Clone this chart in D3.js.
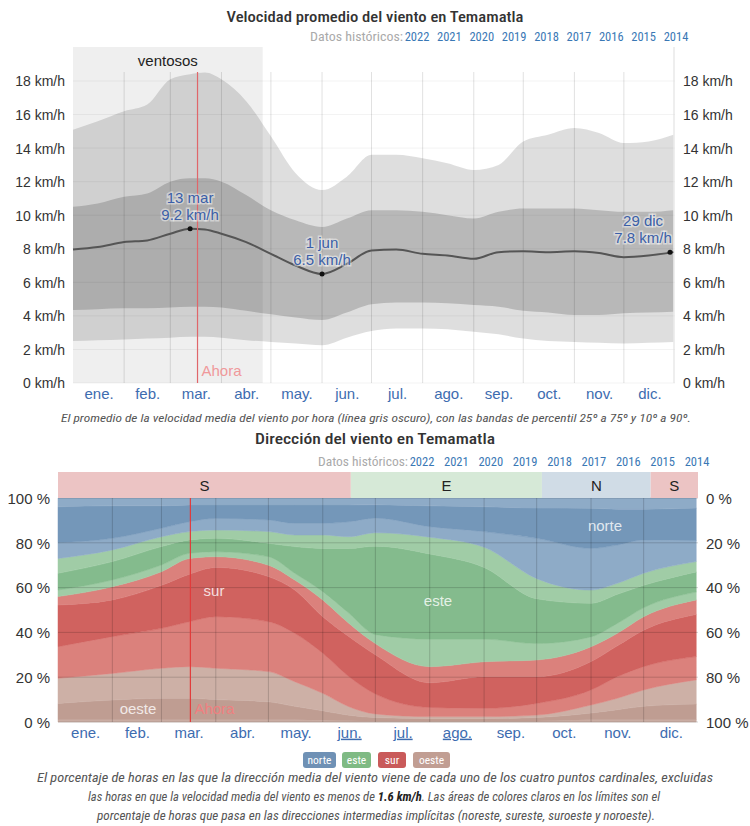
<!DOCTYPE html>
<html>
<head>
<meta charset="utf-8">
<script src="https://cdn.jsdelivr.net/npm/d3@7"></script>
<style>
  body { margin: 0; background: #fff; }
  svg text { font-family: "Liberation Sans", Arial, sans-serif; }
  svg text.cond { font-family: "Liberation Sans Narrow", "Roboto Condensed", Roboto, sans-serif; }
</style>
</head>
<body>
<script>
const width = 750
const height = 826

// --- datos comunes ---
const meses = ['ene.', 'feb.', 'mar.', 'abr.', 'may.', 'jun.', 'jul.', 'ago.', 'sep.', 'oct.', 'nov.', 'dic.']
const inicioMes = [0, 31, 59, 90, 120, 151, 181, 212, 243, 273, 304, 334, 365]
const anios = ['2022', '2021', '2020', '2019', '2018', '2017', '2016', '2015', '2014']
const hoy = 75.5

// --- velocidad del viento (km/h) ---
const ventososDesde = 0
const ventososHasta = 115
const diasVel = [0, 15, 31, 45, 59, 71, 80, 90, 105, 120, 135, 151, 166, 181, 196, 212, 227, 243, 258, 273, 288, 304, 319, 334, 349, 364]
const vel90 = [15.1, 15.6, 16.2, 16.6, 18.1, 18.4, 18.5, 18.1, 16.8, 14.7, 12.5, 11.5, 12.3, 13.6, 13.6, 13.4, 13.1, 12.7, 13.0, 14.4, 14.8, 15.2, 14.9, 14.3, 14.4, 14.8]
const vel75 = [10.5, 10.7, 11.1, 11.3, 12.0, 12.2, 12.2, 12.0, 11.2, 10.3, 9.7, 9.3, 9.8, 10.3, 10.3, 10.2, 10.0, 9.8, 10.2, 10.4, 10.4, 10.4, 10.3, 10.2, 10.2, 10.3]
const velMedia = [7.95, 8.1, 8.4, 8.5, 8.9, 9.2, 9.15, 8.9, 8.4, 7.7, 7.0, 6.5, 7.1, 7.9, 7.95, 7.7, 7.6, 7.4, 7.8, 7.85, 7.8, 7.85, 7.75, 7.5, 7.6, 7.8]
const vel25 = [4.35, 4.4, 4.45, 4.45, 4.5, 4.55, 4.55, 4.5, 4.3, 4.1, 3.9, 3.75, 4.2, 4.7, 4.8, 4.8, 4.75, 4.65, 4.55, 4.3, 4.2, 4.05, 4.05, 4.15, 4.2, 4.25]
const vel10 = [2.5, 2.55, 2.6, 2.65, 2.7, 2.75, 2.75, 2.7, 2.55, 2.45, 2.35, 2.25, 2.7, 3.1, 3.25, 3.25, 3.2, 3.05, 2.9, 2.65, 2.5, 2.45, 2.4, 2.35, 2.4, 2.45]
const velTicks = [0, 2, 4, 6, 8, 10, 12, 14, 16, 18]
const marcaDias = [71, 151, 362]
const marcaValores = [9.2, 6.5, 7.8]
const marcaFechas = ['13 mar', '1 jun', '29 dic']

// --- dirección del viento (% acumulado desde abajo) ---
const diasDir = [0, 31, 59, 75, 90, 120, 135, 151, 166, 181, 212, 243, 273, 304, 319, 334, 364]
const acumNoroesteBajo = [1, 1, 1, 1, 1, 1, 1, 0.8, 0.6, 0.5, 0.5, 0.5, 0.5, 1, 1, 1, 1]
const acumOeste = [8.3, 9.8, 10.6, 10.6, 10, 9, 7, 5, 3, 2, 1.5, 1.5, 2, 4, 5.5, 7, 8]
const acumSuroesteO = [19.5, 21.7, 24, 24.7, 24, 22.5, 18, 12.8, 6.8, 3.6, 2.4, 2.4, 3.1, 7.6, 10.6, 14.3, 18.8]
const acumSuroesteS = [33.6, 38.1, 41.8, 44.8, 47, 44.8, 39.6, 30.7, 20.2, 12.5, 6.5, 6.1, 8.3, 14.3, 20.2, 24.7, 29.2]
const acumSur = [52.2, 54.5, 61, 66, 69, 64.9, 58.9, 47, 38.1, 30, 17.5, 20.2, 20.2, 27, 34, 41, 48]
const acumSuresteS = [56, 60.4, 67.1, 73, 73.8, 70, 63.4, 54.5, 44, 35, 24.7, 26.9, 27.7, 33.6, 39.6, 47, 54.5]
const acumSuresteE = [58.9, 63.4, 70.1, 75.3, 76, 73.8, 66.4, 58.2, 48.5, 39, 37, 37, 35, 38, 44, 51, 58]
const acumEste = [66.4, 71.6, 78.3, 81.3, 82, 79.8, 78.3, 77.5, 77.5, 78.5, 75, 69, 55, 53, 57, 61, 67]
const acumNoresteE = [73, 76.8, 82.7, 85, 85.7, 85, 83.5, 83.5, 82.7, 84.5, 82.5, 78, 64, 58.9, 61.9, 66.4, 71.6]
const acumNoresteN = [80, 82, 86.5, 89.4, 90.9, 90.2, 88.7, 88.7, 89.4, 91, 87.2, 85, 82, 77.5, 79, 81.3, 81]
const acumNorte = [96.1, 96.5, 96.5, 96.9, 96.9, 96.9, 96.9, 96.9, 96.9, 97, 96.5, 96.1, 95.5, 95.4, 95, 95, 95.5]
const dirTicks = [0, 20, 40, 60, 80, 100]
const dominante = ['S', 'E', 'N', 'S']
const dominanteDesde = [0, 167, 276, 338]
const dominanteHasta = [167, 276, 338, 365]
const nombresDir = ['norte', 'este', 'sur', 'oeste']

const azul = '#3d6cb0'
const colores = {
  norte: {base: '#6f91b5', core: '#7497b9', light: '#8eabc7', band: '#d0dce6'},
  este: {base: '#7fba84', core: '#84bb8d', light: '#a0cca6', band: '#d6e9d7'},
  sur: {base: '#c95a5a', core: '#d0625f', light: '#db817c', band: '#ecc4c4'},
  oeste: {base: '#c19e93', core: '#bf9d92', light: '#cdb0a6', band: '#ecc4c4'}
}

const svg = d3.select('body')
  .append('svg')
  .attr('width', width)
  .attr('height', height)

const mitadMes = meses.map((m, i) => (inicioMes[i] + inicioMes[i + 1]) / 2)

const titulo = (texto, y, largo) => {
  svg.append('text')
    .classed('cond', true)
    .attr('x', 375 - largo / 2)
    .attr('y', y)
    .attr('textLength', largo)
    .attr('lengthAdjust', 'spacingAndGlyphs')
    .attr('font-size', 15)
    .attr('font-weight', 500)
    .attr('fill', '#333')
    .text(texto)
}

const datosHistoricos = (y, x0, x1, x2) => {
  svg.append('text')
    .classed('cond', true)
    .attr('x', x0)
    .attr('y', y)
    .attr('font-size', 12.5)
    .attr('fill', '#aaa')
    .attr('textLength', x1 - x0 - 14)
    .attr('lengthAdjust', 'spacingAndGlyphs')
    .text('Datos históricos:')
  const px = d3.scalePoint().domain(anios).range([x1, x2])
  svg.append('g').selectAll('text')
    .data(anios)
    .enter()
    .append('text')
    .classed('cond', true)
    .attr('x', (d) => px(d))
    .attr('y', y)
    .attr('text-anchor', 'middle')
    .attr('font-size', 12.5)
    .attr('fill', '#3a78b5')
    .text((d) => d)
}

// ================= velocidad =================
titulo('Velocidad promedio del viento en Temamatla', 22, 297)
datosHistoricos(41, 310, 417, 676)

const xV = d3.scaleLinear().domain([0, 365]).range([73, 675])
const yV = d3.scaleLinear().domain([0, 18]).range([383, 81])

svg.append('rect')
  .attr('x', xV(ventososDesde))
  .attr('y', 47)
  .attr('width', xV(ventososHasta) - xV(ventososDesde))
  .attr('height', yV(0) - 47)
  .attr('fill', '#efefef')

svg.append('g').selectAll('line')
  .data(velTicks)
  .enter()
  .append('line')
  .attr('x1', xV(0))
  .attr('x2', xV(365))
  .attr('y1', (d) => yV(d))
  .attr('y2', (d) => yV(d))
  .attr('stroke', '#000')
  .attr('stroke-opacity', 0.05)

const filasVel = diasVel.map((d, i) => ({dia: d, p10: vel10[i], p25: vel25[i], m: velMedia[i], p75: vel75[i], p90: vel90[i]}))

const banda = (lo, hi) => d3.area()
  .curve(d3.curveMonotoneX)
  .x((d) => xV(d.dia))
  .y0((d) => yV(d[lo]))
  .y1((d) => yV(d[hi]))

svg.append('path')
  .datum(filasVel)
  .attr('d', banda('p10', 'p90'))
  .attr('fill', '#000')
  .attr('fill-opacity', 0.13)

svg.append('path')
  .datum(filasVel)
  .attr('d', banda('p25', 'p75'))
  .attr('fill', '#000')
  .attr('fill-opacity', 0.17)

svg.append('g').selectAll('line')
  .data(inicioMes.slice(1, 12))
  .enter()
  .append('line')
  .attr('x1', (d) => xV(d))
  .attr('x2', (d) => xV(d))
  .attr('y1', 72)
  .attr('y2', yV(0))
  .attr('stroke', '#000')
  .attr('stroke-opacity', 0.12)

svg.append('line')
  .attr('x1', 674).attr('x2', 674)
  .attr('y1', 47).attr('y2', yV(0))
  .attr('stroke', '#ddd')

svg.append('path')
  .datum(filasVel)
  .attr('d', d3.line().curve(d3.curveMonotoneX).x((d) => xV(d.dia)).y((d) => yV(d.m)))
  .attr('fill', 'none')
  .attr('stroke', '#555')
  .attr('stroke-width', 2)

svg.append('line')
  .attr('x1', xV(hoy)).attr('x2', xV(hoy))
  .attr('y1', 72).attr('y2', yV(0))
  .attr('stroke', '#e0666a')
  .attr('stroke-width', 1.2)

svg.append('text')
  .attr('x', xV(hoy) + 4)
  .attr('y', 376)
  .attr('font-size', 15)
  .attr('fill', '#f0999b')
  .text('Ahora')

svg.append('text')
  .attr('x', (xV(ventososDesde) + xV(ventososHasta)) / 2)
  .attr('y', 66)
  .attr('text-anchor', 'middle')
  .attr('font-size', 15)
  .attr('fill', '#222')
  .text('ventosos')

const marcas = marcaDias.map((d, i) => ({dia: d, valor: marcaValores[i], fecha: marcaFechas[i]}))

svg.append('g').selectAll('circle')
  .data(marcas)
  .enter()
  .append('circle')
  .attr('cx', (d) => xV(d.dia))
  .attr('cy', (d) => yV(d.valor))
  .attr('r', 2.5)
  .attr('fill', '#111')

const etiquetas = svg.append('g').selectAll('g')
  .data(marcas)
  .enter()
  .append('g')
  .attr('transform', (d, i) => `translate(${xV(d.dia) - (i === 2 ? 27 : 0)},${yV(d.valor)})`)

etiquetas.append('text')
  .attr('y', -26)
  .text((d) => d.fecha)
etiquetas.append('text')
  .attr('y', -9)
  .text((d) => `${d.valor} km/h`)
etiquetas.selectAll('text')
  .attr('text-anchor', 'middle')
  .attr('font-size', 15)
  .attr('fill', '#3b5fa8')
  .attr('stroke', '#fff')
  .attr('stroke-width', 3)
  .attr('stroke-opacity', 0.45)
  .attr('paint-order', 'stroke')

svg.append('g')
  .attr('transform', 'translate(68,0)')
  .call(d3.axisLeft(yV).tickValues(velTicks).tickSize(0).tickFormat((d) => `${d} km/h`))
  .call((g) => g.select('.domain').remove())
  .call((g) => g.selectAll('text').attr('font-size', 14).attr('fill', '#333').attr('font-family', null).attr('dy', '0.35em'))

svg.append('g')
  .attr('transform', 'translate(680,0)')
  .call(d3.axisRight(yV).tickValues(velTicks).tickSize(0).tickFormat((d) => `${d} km/h`))
  .call((g) => g.select('.domain').remove())
  .call((g) => g.selectAll('text').attr('font-size', 14).attr('fill', '#333').attr('font-family', null).attr('dy', '0.35em'))

svg.append('g')
  .attr('transform', `translate(0,${yV(0) + 2})`)
  .call(d3.axisBottom(xV).tickValues(mitadMes).tickSize(0).tickFormat((d, i) => meses[i]))
  .call((g) => g.select('.domain').remove())
  .call((g) => g.selectAll('text').attr('font-size', 15).attr('fill', azul).attr('font-family', null))

svg.append('text')
  .classed('cond', true)
  .attr('x', 61)
  .attr('y', 422)
  .attr('textLength', 630)
  .attr('lengthAdjust', 'spacingAndGlyphs')
  .attr('font-size', 11.5)
  .attr('font-style', 'italic')
  .attr('fill', '#555')
  .text('El promedio de la velocidad media del viento por hora (línea gris oscuro), con las bandas de percentil 25º a 75º y 10º a 90º.')

// ================= dirección =================
titulo('Dirección del viento en Temamatla', 444, 240)
datosHistoricos(466, 318, 422, 697)

const xD = d3.scaleLinear().domain([0, 365]).range([58, 698])
const yD = d3.scaleLinear().domain([0, 100]).range([722, 498])

const limites = [
  diasDir.map(() => 0), acumNoroesteBajo, acumOeste, acumSuroesteO, acumSuroesteS, acumSur,
  acumSuresteS, acumSuresteE, acumEste, acumNoresteE, acumNoresteN, acumNorte, diasDir.map(() => 100)
]
const capas = [
  ['oeste', 'light'], ['oeste', 'core'], ['oeste', 'light'],
  ['sur', 'light'], ['sur', 'core'], ['sur', 'light'],
  ['este', 'light'], ['este', 'core'], ['este', 'light'],
  ['norte', 'light'], ['norte', 'core'], ['norte', 'light']
]

const areaDir = d3.area()
  .curve(d3.curveMonotoneX)
  .x((d) => xD(d[0]))
  .y0((d) => yD(d[1]))
  .y1((d) => yD(d[2]))

svg.append('g').selectAll('path')
  .data(capas)
  .enter()
  .append('path')
  .attr('d', (c, i) => areaDir(diasDir.map((d, j) => [d, limites[i][j], limites[i + 1][j]])))
  .attr('fill', (c) => colores[c[0]][c[1]])
  .attr('stroke', (c) => colores[c[0]][c[1]])
  .attr('stroke-width', 0.5)

svg.append('g').selectAll('line')
  .data(dirTicks)
  .enter()
  .append('line')
  .attr('x1', xD(0))
  .attr('x2', xD(365))
  .attr('y1', (d) => yD(d))
  .attr('y2', (d) => yD(d))
  .attr('stroke', '#000')
  .attr('stroke-opacity', 0.17)

svg.append('g').selectAll('line')
  .data(inicioMes.slice(1, 12))
  .enter()
  .append('line')
  .attr('x1', (d) => xD(d))
  .attr('x2', (d) => xD(d))
  .attr('y1', yD(100))
  .attr('y2', yD(0))
  .attr('stroke', '#000')
  .attr('stroke-opacity', 0.17)

const franjas = dominante.map((d, i) => ({dir: d, desde: dominanteDesde[i], hasta: dominanteHasta[i]}))
const colorFranja = {S: colores.sur.band, E: colores.este.band, N: colores.norte.band}

svg.append('g').selectAll('rect')
  .data(franjas)
  .enter()
  .append('rect')
  .attr('x', (d) => xD(d.desde))
  .attr('y', 472)
  .attr('width', (d) => xD(d.hasta) - xD(d.desde))
  .attr('height', yD(100) - 472)
  .attr('fill', (d) => colorFranja[d.dir])

svg.append('g').selectAll('text')
  .data(franjas)
  .enter()
  .append('text')
  .attr('x', (d) => (xD(d.desde) + xD(d.hasta)) / 2)
  .attr('y', 491)
  .attr('text-anchor', 'middle')
  .attr('font-size', 15)
  .attr('fill', '#222')
  .text((d) => d.dir)

svg.append('line')
  .attr('x1', xD(hoy)).attr('x2', xD(hoy))
  .attr('y1', yD(100)).attr('y2', yD(0))
  .attr('stroke', '#e23b3b')
  .attr('stroke-width', 1.2)

svg.append('text')
  .attr('x', xD(hoy) + 4)
  .attr('y', 714)
  .attr('font-size', 15)
  .attr('fill', '#f07f80')
  .text('Ahora')

const rotulos = [['norte', 605, 531], ['este', 438, 606], ['sur', 214, 596], ['oeste', 138, 714]]
svg.append('g').selectAll('text')
  .data(rotulos)
  .enter()
  .append('text')
  .attr('x', (d) => d[1])
  .attr('y', (d) => d[2])
  .attr('text-anchor', 'middle')
  .attr('font-size', 15)
  .attr('fill', '#fff')
  .attr('fill-opacity', 0.8)
  .text((d) => d[0])

svg.append('g')
  .attr('transform', 'translate(53,0)')
  .call(d3.axisLeft(yD).tickValues(dirTicks).tickSize(0).tickFormat((d) => `${d} %`))
  .call((g) => g.select('.domain').remove())
  .call((g) => g.selectAll('text').attr('font-size', 15).attr('fill', '#333').attr('font-family', null).attr('dy', '0.35em'))

svg.append('g')
  .attr('transform', 'translate(703,0)')
  .call(d3.axisRight(yD).tickValues(dirTicks).tickSize(0).tickFormat((d) => `${100 - d} %`))
  .call((g) => g.select('.domain').remove())
  .call((g) => g.selectAll('text').attr('font-size', 15).attr('fill', '#333').attr('font-family', null).attr('dy', '0.35em'))

svg.append('g')
  .attr('transform', `translate(0,${yD(0) + 2})`)
  .call(d3.axisBottom(xD).tickValues(mitadMes).tickSize(0).tickFormat((d, i) => meses[i]))
  .call((g) => g.select('.domain').remove())
  .call((g) => g.selectAll('text').attr('font-size', 15).attr('fill', azul).attr('font-family', null)
    .attr('text-decoration', (d, i) => (i >= 5 && i <= 7) ? 'underline' : null))

// leyenda
const anchoLeyenda = [33, 29, 28, 37]
const xLeyenda = [303, 342, 378, 413]
const leyenda = svg.append('g').selectAll('g')
  .data(nombresDir)
  .enter()
  .append('g')
  .attr('transform', (d, i) => `translate(${xLeyenda[i]},752)`)
leyenda.append('rect')
  .attr('width', (d, i) => anchoLeyenda[i])
  .attr('height', 16)
  .attr('rx', 3)
  .attr('fill', (d) => colores[d].base)
leyenda.append('text')
  .classed('cond', true)
  .attr('x', (d, i) => anchoLeyenda[i] / 2)
  .attr('y', 12)
  .attr('text-anchor', 'middle')
  .attr('font-size', 11.5)
  .attr('fill', '#fff')
  .text((d) => d)

const pie = [
  [37, 782, 676, ['El porcentaje de horas en las que la dirección media del viento viene de cada uno de los cuatro puntos cardinales, excluidas']],
  [88, 801, 572, ['las horas en que la velocidad media del viento es menos de ', '1.6 km/h', '. Las áreas de colores claros en los límites son el']],
  [97, 820, 558, ['porcentaje de horas que pasa en las direcciones intermedias implícitas (noreste, sureste, suroeste y noroeste).']]
]
const lineasPie = svg.append('g').selectAll('text')
  .data(pie)
  .enter()
  .append('text')
  .classed('cond', true)
  .attr('x', (d) => d[0])
  .attr('y', (d) => d[1])
  .attr('textLength', (d) => d[2])
  .attr('lengthAdjust', 'spacingAndGlyphs')
  .attr('font-size', 12)
  .attr('font-style', 'italic')
  .attr('fill', '#555')
lineasPie.selectAll('tspan')
  .data((d) => d[3])
  .enter()
  .append('tspan')
  .attr('font-weight', (d, i) => i === 1 ? 'bold' : null)
  .attr('fill', (d, i) => i === 1 ? '#222' : null)
  .text((d) => d)
</script>
</body>
</html>
